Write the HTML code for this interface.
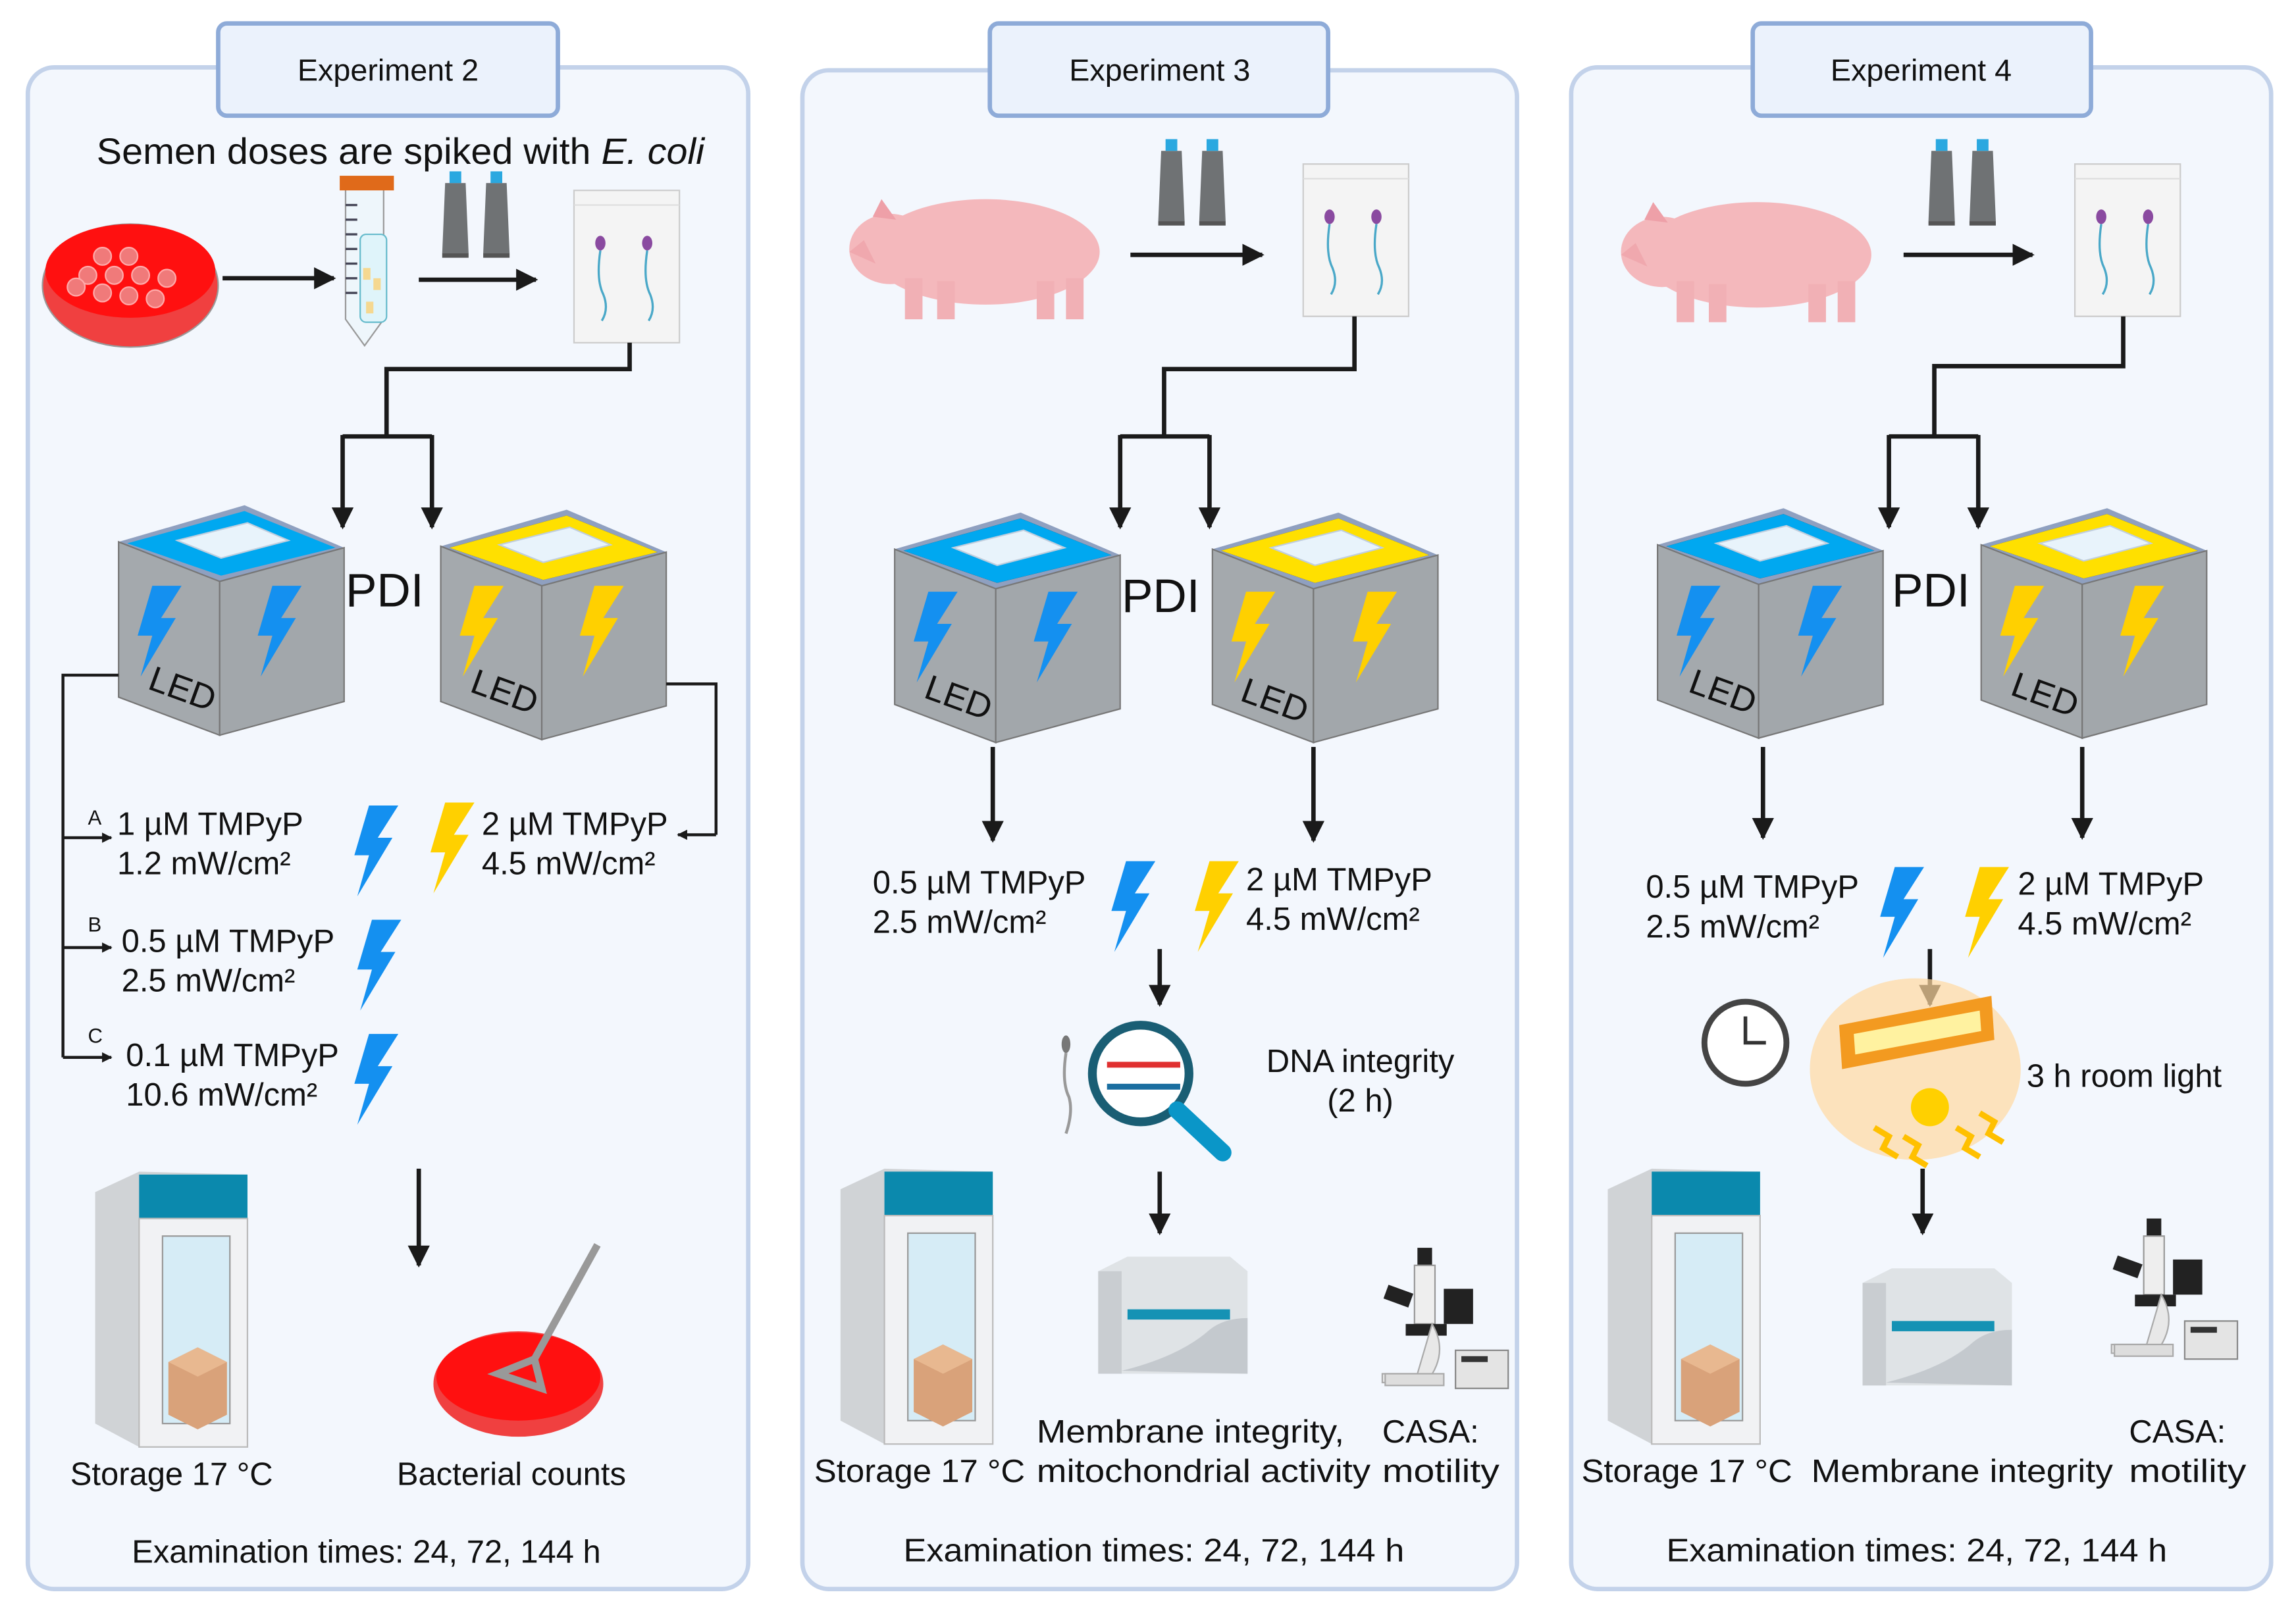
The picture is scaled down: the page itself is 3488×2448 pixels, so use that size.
<!DOCTYPE html>
<html><head><meta charset="utf-8"><style>html,body{margin:0;padding:0;background:#fff}svg{display:block}text{font-family:"Liberation Sans",sans-serif;fill:#111}</style></head><body>
<svg width="3488" height="2448" viewBox="0 0 1568 1100" preserveAspectRatio="none" xmlns="http://www.w3.org/2000/svg">
<defs>
<marker id="ar" viewBox="0 0 10 10" refX="9" refY="5" markerWidth="5" markerHeight="5" orient="auto"><path d="M0,0L10,5L0,10z" fill="#1a1a1a"/></marker>
<marker id="as" viewBox="0 0 10 10" refX="9" refY="5" markerWidth="3.5" markerHeight="3.5" orient="auto"><path d="M0,0L10,5L0,10z" fill="#1a1a1a"/></marker>
<path id="bolt" d="M14,0 L34,0 L20,22 L30,22 L6,62 L14,34 L4,34 Z"/>
<g id="cube">
<path d="M0,25L86,0L154,29L69,52Z" fill="#8fa0c0"/>
<path d="M6,26L86,4L148,29L70,48Z" class="top"/>
<path d="M40,24L88,12L116,24L70,36Z" fill="#e8f3fb" stroke="#c0cede"/>
<path d="M0,25L69,52L69,157L0,131Z" fill="#a4a9ad" stroke="#777" stroke-width="1"/>
<path d="M69,52L154,29L154,134L69,157Z" fill="#a2a7ab" stroke="#777" stroke-width="1"/>
</g>
<g id="bag"><rect x="0" y="0" width="72" height="104" fill="#f4f4f4" stroke="#ccc"/><line x1="0" y1="10" x2="72" y2="10" stroke="#ddd"/><ellipse cx="18" cy="36" rx="3.5" ry="5" fill="#8a4aa0"/><path d="M18,41 q-3,20 2,30 q4,10 -1,18" stroke="#4aa8c8" fill="none" stroke-width="1.5"/><ellipse cx="50" cy="36" rx="3.5" ry="5" fill="#8a4aa0"/><path d="M50,41 q-3,20 2,30 q4,10 -1,18" stroke="#4aa8c8" fill="none" stroke-width="1.5"/></g>
<g id="tubes"><path d="M3,8 h14 l2,48 h-18z" fill="#6f7274"/><rect x="6" y="0" width="8" height="8" fill="#2aa8e0"/><rect x="1" y="56" width="18" height="3" fill="#555"/><path d="M31,8 h14 l2,48 h-18z" fill="#6f7274"/><rect x="34" y="0" width="8" height="8" fill="#2aa8e0"/><rect x="29" y="56" width="18" height="3" fill="#555"/></g>
<g id="pig"><ellipse cx="95" cy="52" rx="78" ry="36" fill="#f4b8bc"/><ellipse cx="30" cy="50" rx="28" ry="24" fill="#f4b8bc"/><path d="M2,52 l10,-8 l8,16z" fill="#f0a8ae"/><path d="M18,28 l6,-12 l10,14z" fill="#eea0a8"/><rect x="40" y="70" width="12" height="28" fill="#f1b0b5"/><rect x="62" y="72" width="12" height="26" fill="#f1b0b5"/><rect x="130" y="72" width="12" height="26" fill="#f1b0b5"/><rect x="150" y="70" width="12" height="28" fill="#f1b0b5"/></g>
<g id="fridge"><path d="M0,14 L30,0 L104,2 L104,170 L30,188 L0,172Z" fill="#d0d3d6"/><rect x="30" y="2" width="74" height="30" fill="#0b89ad"/><rect x="30" y="32" width="74" height="156" fill="#f1f2f4" stroke="#bbb"/><rect x="46" y="44" width="46" height="128" fill="#d6ecf6" stroke="#999"/><path d="M50,130 l20,-10 l20,10 v36 l-20,10 l-20,-10z" fill="#d9a27a"/><path d="M50,130 l20,-10 l20,10 l-20,10z" fill="#e8b890"/></g>
<g id="machine"><path d="M0,10 L20,0 L90,0 L102,10 L102,80 L0,80Z" fill="#dfe3e6"/><rect x="0" y="10" width="16" height="70" fill="#c9cdd1"/><rect x="20" y="36" width="70" height="7" fill="#1592b4"/><path d="M16,78 q40,-10 60,-28 q10,-8 26,-8 v38z" fill="#c4c9ce"/></g>
<g id="scope"><rect x="26" y="0" width="10" height="12" fill="#222"/><rect x="24" y="12" width="14" height="40" fill="#eee" stroke="#999"/><rect x="4" y="28" width="18" height="10" fill="#222" transform="rotate(20 13 33)"/><rect x="44" y="28" width="20" height="24" fill="#222"/><rect x="18" y="52" width="28" height="8" fill="#222"/><path d="M36,52 q12,20 -4,40 h-30 v-6 h24z" fill="#e8e8e8" stroke="#aaa"/><rect x="4" y="86" width="40" height="8" fill="#ddd" stroke="#aaa"/><rect x="52" y="70" width="36" height="26" fill="#e4e4e4" stroke="#888"/><rect x="56" y="74" width="18" height="4" fill="#333"/></g>
</defs>
<rect width="1568" height="1100" fill="#fff"/>
<!-- panels -->
<rect x="19" y="46" width="492" height="1039" rx="18" fill="#f3f7fd" stroke="#c3d2ea" stroke-width="3"/>
<rect x="548" y="48" width="488" height="1037" rx="18" fill="#f3f7fd" stroke="#c3d2ea" stroke-width="3"/>
<rect x="1073" y="46" width="478" height="1039" rx="18" fill="#f3f7fd" stroke="#c3d2ea" stroke-width="3"/>
<rect x="149" y="16" width="232" height="63" rx="6" fill="#ebf2fc" stroke="#8eabd8" stroke-width="3"/>
<rect x="676" y="16" width="231" height="63" rx="6" fill="#ebf2fc" stroke="#8eabd8" stroke-width="3"/>
<rect x="1197" y="16" width="231" height="63" rx="6" fill="#ebf2fc" stroke="#8eabd8" stroke-width="3"/>
<text x="265" y="55" font-size="21" text-anchor="middle">Experiment 2</text>
<text x="792" y="55" font-size="21" text-anchor="middle">Experiment 3</text>
<text x="1312" y="55" font-size="21" text-anchor="middle">Experiment 4</text>

<!-- PANEL 1 -->
<text x="66" y="112" font-size="25" textLength="415" lengthAdjust="spacingAndGlyphs">Semen doses are spiked with <tspan font-style="italic">E. coli</tspan></text>
<ellipse cx="89" cy="195" rx="60" ry="42" fill="#f04040" stroke="#999"/><ellipse cx="89" cy="185" rx="58" ry="32" fill="#ff1010"/>
<g fill="#f07a7a" stroke="#ffaaaa"><circle cx="70" cy="175" r="6"/><circle cx="88" cy="175" r="6"/><circle cx="60" cy="188" r="6"/><circle cx="78" cy="188" r="6"/><circle cx="96" cy="188" r="6"/><circle cx="114" cy="190" r="6"/><circle cx="70" cy="200" r="6"/><circle cx="88" cy="202" r="6"/><circle cx="106" cy="204" r="6"/><circle cx="52" cy="196" r="6"/></g>
<line x1="152" y1="190" x2="228" y2="190" stroke="#1a1a1a" stroke-width="3" marker-end="url(#ar)"/>
<path d="M236,128 h26 v90 l-13,18 l-13,-18z" fill="#eef6fb" stroke="#999"/><rect x="232" y="120" width="37" height="10" fill="#e06a1a"/><rect x="246" y="160" width="18" height="60" rx="4" fill="#dff4fa" stroke="#6bc"/><g fill="#f5d890"><rect x="248" y="183" width="5" height="8"/><rect x="255" y="190" width="5" height="8"/><rect x="250" y="206" width="5" height="8"/></g><g stroke="#445" stroke-width="1.5"><line x1="236" y1="140" x2="244" y2="140"/><line x1="236" y1="150" x2="244" y2="150"/><line x1="236" y1="160" x2="244" y2="160"/><line x1="236" y1="170" x2="244" y2="170"/><line x1="236" y1="180" x2="244" y2="180"/><line x1="236" y1="190" x2="244" y2="190"/><line x1="236" y1="200" x2="244" y2="200"/></g>
<use href="#tubes" x="301" y="117"/>
<line x1="286" y1="191" x2="366" y2="191" stroke="#1a1a1a" stroke-width="3" marker-end="url(#ar)"/>
<use href="#bag" x="392" y="130"/>
<path d="M430,234 V252 H264 V298" fill="none" stroke="#1a1a1a" stroke-width="3"/>
<path d="M234,298 H295" fill="none" stroke="#1a1a1a" stroke-width="3"/>
<line x1="234" y1="297" x2="234" y2="360" stroke="#1a1a1a" stroke-width="3" marker-end="url(#ar)"/>
<line x1="295" y1="297" x2="295" y2="360" stroke="#1a1a1a" stroke-width="3" marker-end="url(#ar)"/>
<g transform="translate(81,345)"><use href="#cube" style="fill:#00a8f0"/></g>
<path d="M87,371L167,349L229,374L151,393Z" fill="#00a8f0"/><path d="M121,369L169,357L197,369L151,381Z" fill="#e8f3fb" stroke="#c0cede"/>
<g transform="translate(301,348)"><use href="#cube"/></g>
<path d="M307,374L387,352L449,377L371,396Z" fill="#ffe000"/><path d="M341,372L389,360L417,372L371,384Z" fill="#e8f3fb" stroke="#c0cede"/>
<use href="#bolt" x="90" y="400" fill="#1490f0"/><use href="#bolt" x="172" y="400" fill="#1490f0" transform="scale(1 1)"/>
<use href="#bolt" x="310" y="400" fill="#ffd000"/><use href="#bolt" x="392" y="400" fill="#ffd000"/>
<text x="100" y="470" font-size="24" transform="rotate(20 100 470)">LED</text>
<text x="320" y="472" font-size="24" transform="rotate(20 320 472)">LED</text>
<text x="236" y="414" font-size="32">PDI</text>
<path d="M81,461 H43 V722" fill="none" stroke="#1a1a1a" stroke-width="2"/>
<line x1="43" y1="572" x2="76" y2="572" stroke="#1a1a1a" stroke-width="2" marker-end="url(#as)"/>
<line x1="43" y1="647" x2="76" y2="647" stroke="#1a1a1a" stroke-width="2" marker-end="url(#as)"/>
<line x1="43" y1="722" x2="76" y2="722" stroke="#1a1a1a" stroke-width="2" marker-end="url(#as)"/>
<path d="M455,467 H489 V570" fill="none" stroke="#1a1a1a" stroke-width="2"/>
<line x1="489" y1="570" x2="463" y2="570" stroke="#1a1a1a" stroke-width="2" marker-end="url(#as)"/>
<text x="60" y="563" font-size="14">A</text><text x="60" y="636" font-size="14">B</text><text x="60" y="712" font-size="14">C</text>
<g font-size="22"><text x="80" y="570">1 µM TMPyP</text><text x="80" y="597">1.2 mW/cm²</text>
<text x="329" y="570">2 µM TMPyP</text><text x="329" y="597">4.5 mW/cm²</text>
<text x="83" y="650">0.5 µM TMPyP</text><text x="83" y="677">2.5 mW/cm²</text>
<text x="86" y="728">0.1 µM TMPyP</text><text x="86" y="755">10.6 mW/cm²</text></g>
<use href="#bolt" x="238" y="550" fill="#1490f0"/><use href="#bolt" x="290" y="548" fill="#ffd000"/>
<use href="#bolt" x="240" y="628" fill="#1490f0"/><use href="#bolt" x="238" y="706" fill="#1490f0"/>
<line x1="286" y1="798" x2="286" y2="864" stroke="#1a1a1a" stroke-width="3" marker-end="url(#ar)"/>
<use href="#fridge" x="65" y="800"/>
<ellipse cx="354" cy="945" rx="58" ry="36" fill="#f04040"/><ellipse cx="354" cy="940" rx="56" ry="30" fill="#ff1010"/>
<path d="M408,850 L365,928" stroke="#999" stroke-width="5"/><path d="M365,928 l-25,10 l30,10z" fill="none" stroke="#999" stroke-width="5"/>
<text x="48" y="1014" font-size="22">Storage 17 °C</text>
<text x="271" y="1014" font-size="22">Bacterial counts</text>
<text x="90" y="1067" font-size="22">Examination times: 24, 72, 144 h</text>

<!-- PANEL 2 -->
<use href="#pig" x="578" y="120"/>
<use href="#tubes" x="790" y="95"/>
<line x1="772" y1="174" x2="862" y2="174" stroke="#1a1a1a" stroke-width="3" marker-end="url(#ar)"/>
<use href="#bag" x="890" y="112"/>
<path d="M925,216 V252 H795 V298" fill="none" stroke="#1a1a1a" stroke-width="3"/>
<path d="M765,298 H826" stroke="#1a1a1a" stroke-width="3"/>
<line x1="765" y1="297" x2="765" y2="360" stroke="#1a1a1a" stroke-width="3" marker-end="url(#ar)"/>
<line x1="826" y1="297" x2="826" y2="360" stroke="#1a1a1a" stroke-width="3" marker-end="url(#ar)"/>
<g transform="translate(611,350)"><use href="#cube"/></g>
<path d="M617,376L697,354L759,379L681,398Z" fill="#00a8f0"/><path d="M651,374L699,362L727,374L681,386Z" fill="#e8f3fb" stroke="#c0cede"/>
<g transform="translate(828,350)"><use href="#cube"/></g>
<path d="M834,376L914,354L976,379L898,398Z" fill="#ffe000"/><path d="M868,374L916,362L944,374L898,386Z" fill="#e8f3fb" stroke="#c0cede"/>
<use href="#bolt" x="620" y="404" fill="#1490f0"/><use href="#bolt" x="702" y="404" fill="#1490f0"/>
<use href="#bolt" x="837" y="404" fill="#ffd000"/><use href="#bolt" x="920" y="404" fill="#ffd000"/>
<text x="630" y="476" font-size="24" transform="rotate(20 630 476)">LED</text>
<text x="846" y="478" font-size="24" transform="rotate(20 846 478)">LED</text>
<text x="766" y="418" font-size="32">PDI</text>
<line x1="678" y1="510" x2="678" y2="574" stroke="#1a1a1a" stroke-width="3" marker-end="url(#ar)"/>
<line x1="897" y1="510" x2="897" y2="574" stroke="#1a1a1a" stroke-width="3" marker-end="url(#ar)"/>
<g font-size="22"><text x="596" y="610">0.5 µM TMPyP</text><text x="596" y="637">2.5 mW/cm²</text>
<text x="851" y="608">2 µM TMPyP</text><text x="851" y="635">4.5 mW/cm²</text></g>
<use href="#bolt" x="755" y="588" fill="#1490f0"/><use href="#bolt" x="812" y="588" fill="#ffd000"/>
<line x1="792" y1="648" x2="792" y2="686" stroke="#1a1a1a" stroke-width="3" marker-end="url(#ar)"/>
<circle cx="779" cy="733" r="33" fill="#fff" stroke="#1a5e74" stroke-width="6"/><line x1="804" y1="758" x2="835" y2="787" stroke="#0a96c8" stroke-width="12" stroke-linecap="round"/>
<rect x="756" y="725" width="50" height="4" fill="#e03030"/><rect x="756" y="740" width="50" height="4" fill="#1a6ea0"/>
<ellipse cx="728" cy="713" rx="3" ry="6" fill="#777"/><path d="M728,719 q-3,20 2,30 q3,10 -2,25" stroke="#999" fill="none" stroke-width="2"/>
<text x="929" y="732" font-size="22" text-anchor="middle">DNA integrity</text>
<text x="929" y="759" font-size="22" text-anchor="middle">(2 h)</text>
<line x1="792" y1="800" x2="792" y2="842" stroke="#1a1a1a" stroke-width="3" marker-end="url(#ar)"/>
<use href="#fridge" x="574" y="798"/>
<use href="#machine" x="750" y="858"/>
<use href="#scope" x="942" y="852"/>
<text x="556" y="1012" font-size="22" textLength="144" lengthAdjust="spacingAndGlyphs">Storage 17 °C</text>
<text x="708" y="985" font-size="22" textLength="210" lengthAdjust="spacingAndGlyphs">Membrane integrity,</text>
<text x="708" y="1012" font-size="22" textLength="228" lengthAdjust="spacingAndGlyphs">mitochondrial activity</text>
<text x="944" y="985" font-size="22" textLength="66" lengthAdjust="spacingAndGlyphs">CASA:</text>
<text x="944" y="1012" font-size="22" textLength="80" lengthAdjust="spacingAndGlyphs">motility</text>
<text x="617" y="1066" font-size="22" textLength="342" lengthAdjust="spacingAndGlyphs">Examination times: 24, 72, 144 h</text>

<!-- PANEL 3 -->
<use href="#pig" x="1105" y="122"/>
<use href="#tubes" x="1316" y="95"/>
<line x1="1300" y1="174" x2="1388" y2="174" stroke="#1a1a1a" stroke-width="3" marker-end="url(#ar)"/>
<use href="#bag" x="1417" y="112"/>
<path d="M1450,216 V250 H1321 V298" fill="none" stroke="#1a1a1a" stroke-width="3"/>
<path d="M1290,298 H1351" stroke="#1a1a1a" stroke-width="3"/>
<line x1="1290" y1="297" x2="1290" y2="360" stroke="#1a1a1a" stroke-width="3" marker-end="url(#ar)"/>
<line x1="1351" y1="297" x2="1351" y2="360" stroke="#1a1a1a" stroke-width="3" marker-end="url(#ar)"/>
<g transform="translate(1132,347)"><use href="#cube"/></g>
<path d="M1138,373L1218,351L1280,376L1202,395Z" fill="#00a8f0"/><path d="M1172,371L1220,359L1248,371L1202,383Z" fill="#e8f3fb" stroke="#c0cede"/>
<g transform="translate(1353,347)"><use href="#cube"/></g>
<path d="M1359,373L1439,351L1501,376L1423,395Z" fill="#ffe000"/><path d="M1393,371L1441,359L1469,371L1423,383Z" fill="#e8f3fb" stroke="#c0cede"/>
<use href="#bolt" x="1141" y="400" fill="#1490f0"/><use href="#bolt" x="1224" y="400" fill="#1490f0"/>
<use href="#bolt" x="1362" y="400" fill="#ffd000"/><use href="#bolt" x="1444" y="400" fill="#ffd000"/>
<text x="1152" y="472" font-size="24" transform="rotate(20 1152 472)">LED</text>
<text x="1372" y="474" font-size="24" transform="rotate(20 1372 474)">LED</text>
<text x="1292" y="414" font-size="32">PDI</text>
<line x1="1204" y1="510" x2="1204" y2="572" stroke="#1a1a1a" stroke-width="3" marker-end="url(#ar)"/>
<line x1="1422" y1="510" x2="1422" y2="572" stroke="#1a1a1a" stroke-width="3" marker-end="url(#ar)"/>
<g font-size="22"><text x="1124" y="613">0.5 µM TMPyP</text><text x="1124" y="640">2.5 mW/cm²</text>
<text x="1378" y="611">2 µM TMPyP</text><text x="1378" y="638">4.5 mW/cm²</text></g>
<use href="#bolt" x="1280" y="592" fill="#1490f0"/><use href="#bolt" x="1338" y="592" fill="#ffd000"/>
<line x1="1318" y1="648" x2="1318" y2="686" stroke="#1a1a1a" stroke-width="3" marker-end="url(#ar)"/>
<circle cx="1192" cy="712" r="28" fill="#fff" stroke="#444" stroke-width="4"/><path d="M1192,694 V712 H1206" stroke="#333" stroke-width="2.5" fill="none"/>
<ellipse cx="1308" cy="730" rx="72" ry="62" fill="#ffd9a0" opacity="0.7"/>
<path d="M1256,700 L1360,680 L1362,710 L1258,730Z" fill="#f39a20"/><path d="M1266,706 L1352,690 L1353,704 L1267,720Z" fill="#fff2a0"/>
<circle cx="1318" cy="756" r="13" fill="#ffd000"/>
<g stroke="#ffc000" stroke-width="4" fill="none"><path d="M1280,770 l10,6 l-4,8 l10,6"/><path d="M1300,776 l10,6 l-4,8 l10,6"/><path d="M1336,770 l10,6 l-4,8 l10,6"/><path d="M1352,760 l10,6 l-4,8 l10,6"/></g>
<text x="1384" y="742" font-size="22">3 h room light</text>
<line x1="1313" y1="798" x2="1313" y2="842" stroke="#1a1a1a" stroke-width="3" marker-end="url(#ar)"/>
<use href="#fridge" x="1098" y="798"/>
<use href="#machine" x="1272" y="866"/>
<use href="#scope" x="1440" y="832"/>
<text x="1080" y="1012" font-size="22" textLength="144" lengthAdjust="spacingAndGlyphs">Storage 17 °C</text>
<text x="1237" y="1012" font-size="22" textLength="206" lengthAdjust="spacingAndGlyphs">Membrane integrity</text>
<text x="1454" y="985" font-size="22" textLength="66" lengthAdjust="spacingAndGlyphs">CASA:</text>
<text x="1454" y="1012" font-size="22" textLength="80" lengthAdjust="spacingAndGlyphs">motility</text>
<text x="1138" y="1066" font-size="22" textLength="342" lengthAdjust="spacingAndGlyphs">Examination times: 24, 72, 144 h</text>
</svg>
</body></html>
